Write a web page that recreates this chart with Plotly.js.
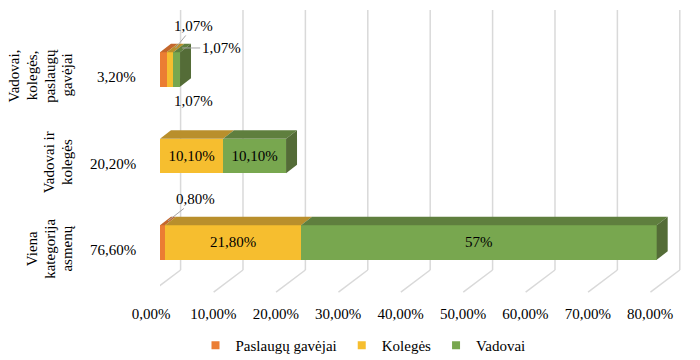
<!DOCTYPE html>
<html>
<head>
<meta charset="utf-8">
<script src="https://cdn.plot.ly/plotly-3.0.1.min.js"></script>
</head>
<body style="margin:0;background:#fff">
<div id="chart" style="width:700px;height:360px"></div>
<div style="position:absolute;left:-2000px;top:0;font-family:'Times New Roman';font-size:15px">Paslaugų gavėjai Kolegės Vadovai 0,00% 57%</div>
<div style="position:absolute;left:-2000px;top:30px;font-family:'Liberation Serif';font-size:15px">Paslaugų gavėjai Kolegės Vadovai 0,00% 57%</div>
<script>
// ---- data ----
const categories = ['Viena kategorija asmenų', 'Vadovai ir kolegės', 'Vadovai, kolegės, paslaugų gavėjai'];
const categoryLines = [['Viena', 'kategorija', 'asmenų'], ['Vadovai ir', 'kolegės'], ['Vadovai,', 'kolegės,', 'paslaugų', 'gavėjai']];
const totals = [76.6, 20.2, 3.2];
const totalLabels = ['76,60%', '20,20%', '3,20%'];
const seriesNames = ['Paslaugų gavėjai', 'Kolegės', 'Vadovai'];
const paslauguGavejai = [0.8, 0, 1.07];
const koleges = [21.8, 10.1, 1.07];
const vadovai = [57, 10.1, 1.07];
const paslauguLabels = ['0,80%', '', '1,07%'];
const kolegesLabels = ['21,80%', '10,10%', '1,07%'];
const vadovaiLabels = ['57%', '10,10%', '1,07%'];
const xTicks = [0, 10, 20, 30, 40, 50, 60, 70, 80];
const xTickLabels = ['0,00%', '10,00%', '20,00%', '30,00%', '40,00%', '50,00%', '60,00%', '70,00%', '80,00%'];

// ---- style ----
const FONT = 'Times New Roman';
const TXT = () => ({family: FONT, size: 15, color: '#000000'});
const frontColors = ['#EB7D33', '#F6BE2F', '#78A74F'];
const topColors = ['#C4672C', '#B98F2C', '#5F7F3E'];
const sideColors = ['#A6561F', '#9C7A22', '#546C37'];
const barWidth = 0.40;
const depthX = 1.76;
const depthY = 0.098;
const PLOT_L = 160, PLOT_W = 530;
const yPos = categories.map((c, i) => i);
const series = [paslauguGavejai, koleges, vadovai];
const seriesLabels = [paslauguLabels, kolegesLabels, vadovaiLabels];

const traces = series.map((vals, s) => ({
  type: 'bar', orientation: 'h', name: seriesNames[s], showlegend: false,
  x: vals, y: yPos, width: barWidth,
  marker: {color: frontColors[s], line: {width: 0}},
  text: vals.map((v, i) => v >= 5 ? seriesLabels[s][i] : ''),
  textposition: 'inside', insidetextanchor: 'middle', constraintext: 'none',
  textfont: TXT(), insidetextfont: TXT(),
  hoverinfo: 'skip'
}));
seriesNames.forEach((n, s) => traces.push({
  type: 'scatter', mode: 'markers', name: n, x: [null], y: [null],
  marker: {symbol: 'square', size: 8, color: frontColors[s]}, hoverinfo: 'skip'
}));

const shapes = [];
xTicks.forEach(t => {
  shapes.push({type: 'line', xref: 'x', yref: 'paper', x0: t + 3.3, x1: t + 3.3, y0: 0, y1: 1,
    line: {color: '#d9d9d9', width: 1.5}, layer: 'below'});
  shapes.push({type: 'line', xref: 'x', yref: 'paper', x0: t + 3.3, x1: t - 1.4, y0: 0, y1: -0.085,
    line: {color: '#d9d9d9', width: 1.5}, layer: 'below'});
});
yPos.forEach((y, i) => {
  let cum = 0;
  const yt = y + barWidth / 2, yb = y - barWidth / 2;
  let lastS = -1, lastEnd = 0;
  series.forEach((vals, s) => {
    const v = vals[i];
    if (v <= 0) return;
    const x0 = cum, x1 = cum + v;
    shapes.push({type: 'path', xref: 'x', yref: 'y', layer: 'above', line: {width: 0},
      fillcolor: topColors[s],
      path: `M${x0},${yt} L${x1},${yt} L${x1 + depthX},${yt + depthY} L${x0 + depthX},${yt + depthY} Z`});
    cum = x1; lastS = s; lastEnd = x1;
  });
  if (lastS >= 0) {
    shapes.push({type: 'path', xref: 'x', yref: 'y', layer: 'above', line: {width: 0},
      fillcolor: sideColors[lastS],
      path: `M${lastEnd},${yb} L${lastEnd},${yt} L${lastEnd + depthX},${yt + depthY} L${lastEnd + depthX},${yb + depthY} Z`});
  }
});

const annotations = [];
const px2paper = p => (p - PLOT_L) / PLOT_W;
yPos.forEach((y, i) => {
  const lines = categoryLines[i];
  const n = lines.length;
  lines.forEach((ln, k) => {
    annotations.push({xref: 'paper', yref: 'y', x: px2paper(67 - (n - 1 - k) * 17.7), y: y - 0.07, text: ln,
      textangle: -90, xanchor: 'center', yanchor: 'middle', showarrow: false, font: TXT()});
  });
  annotations.push({xref: 'paper', yref: 'y', x: px2paper(138), y: y - 0.092, text: totalLabels[i],
    xanchor: 'right', yanchor: 'middle', showarrow: false, font: TXT()});
});
const leader = () => ({showarrow: true, arrowhead: 0, arrowwidth: 1, arrowcolor: '#a6a6a6', standoff: 0,
  font: TXT(), xref: 'x', yref: 'y'});
annotations.push(Object.assign(leader(), {x: paslauguGavejai[0] / 2 + depthX / 2, y: 0 + barWidth / 2 + depthY / 2,
  text: paslauguLabels[0], ax: 28, ay: -22}));
const r = 2;
const c0 = paslauguGavejai[r], c1 = c0 + koleges[r], c2 = c1 + vadovai[r];
annotations.push({xref: 'x', yref: 'y', x: c0 / 2, y: r - barWidth / 2, text: paslauguLabels[r],
  showarrow: false, xshift: 30, yshift: -14, font: TXT()});
annotations.push(Object.assign(leader(), {x: (c0 + c1) / 2 + depthX / 2, y: r + barWidth / 2 + depthY / 2,
  text: kolegesLabels[r], ax: 18, ay: -22}));
annotations.push(Object.assign(leader(), {x: (c1 + c2) / 2 + depthX / 2, y: r + barWidth / 2 + depthY / 2,
  text: vadovaiLabels[r], ax: 39, ay: 0}));

const layout = {
  width: 700, height: 360,
  margin: {l: PLOT_L, r: 10, t: 10, b: 90, autoexpand: false},
  paper_bgcolor: '#fff', plot_bgcolor: 'rgba(0,0,0,0)',
  barmode: 'stack',
  showlegend: true,
  legend: {orientation: 'h', x: px2paper(363), xanchor: 'center', y: -0.29, yanchor: 'middle',
    font: TXT(), itemwidth: 30, traceorder: 'normal', bgcolor: 'rgba(0,0,0,0)'},
  xaxis: {range: [0, PLOT_W / 6.24], tickvals: xTicks, ticktext: xTickLabels, showgrid: false, zeroline: false,
    showline: false, ticks: '', ticklabelshift: -9, ticklabelstandoff: 33,
    tickfont: TXT(), fixedrange: true, automargin: false},
  yaxis: {range: [-0.318, 2.688], showticklabels: false, showgrid: false, zeroline: false, showline: false,
    fixedrange: true, automargin: false},
  shapes: shapes,
  annotations: annotations
};

Plotly.newPlot('chart', traces, layout, {displayModeBar: false});
</script>
</body>
</html>
